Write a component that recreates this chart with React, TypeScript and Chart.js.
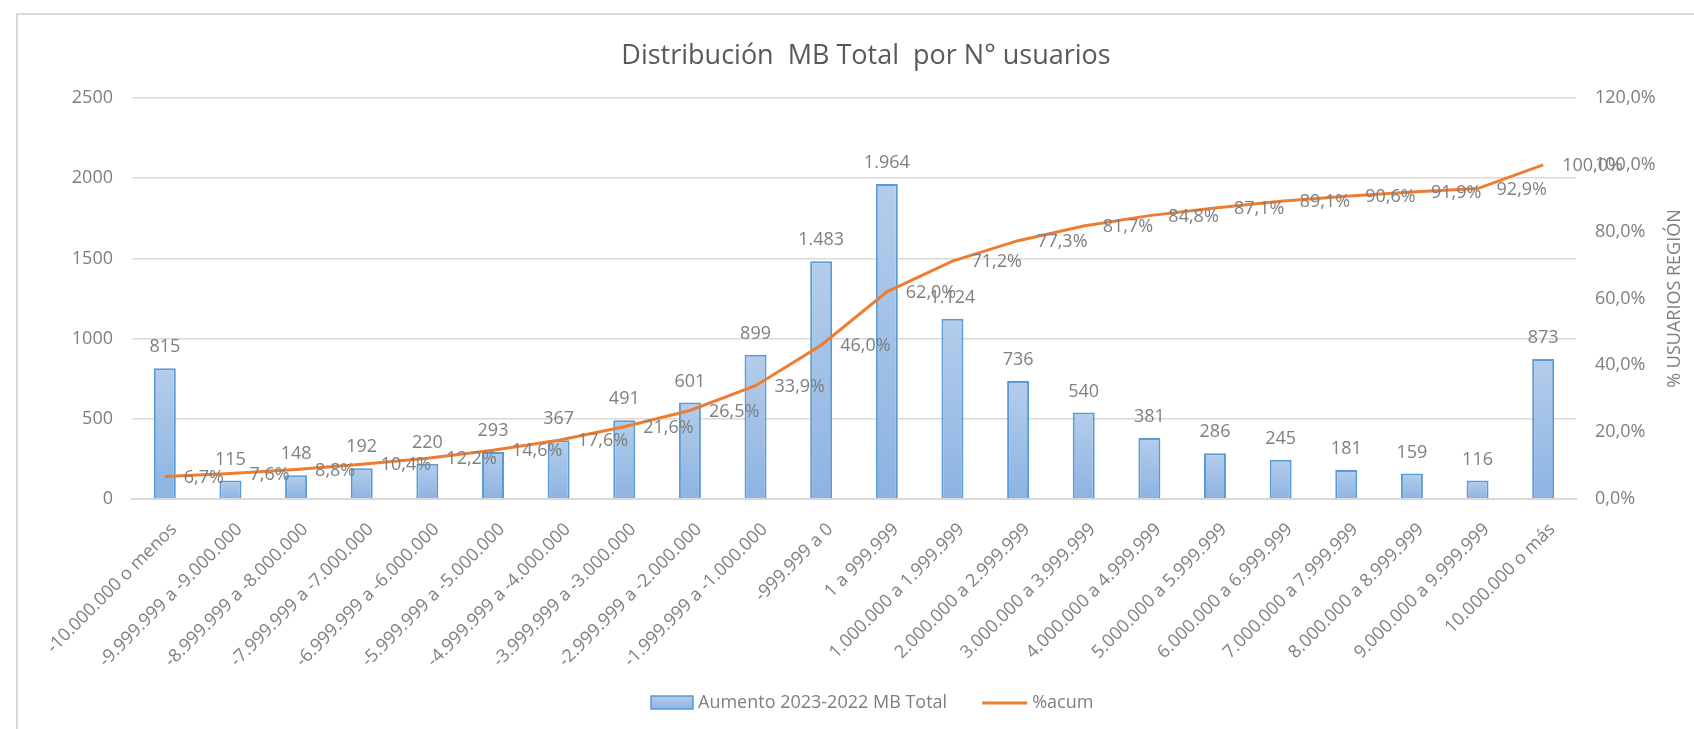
import React, { useEffect, useRef } from 'react';
import { Chart, registerables } from 'chart.js';

Chart.register(...registerables);

const categories = [
  '-10.000.000 o menos',
  '-9.999.999 a -9.000.000',
  '-8.999.999 a -8.000.000',
  '-7.999.999 a -7.000.000',
  '-6.999.999 a -6.000.000',
  '-5.999.999 a -5.000.000',
  '-4.999.999 a -4.000.000',
  '-3.999.999 a -3.000.000',
  '-2.999.999 a -2.000.000',
  '-1.999.999 a -1.000.000',
  '-999.999 a 0',
  '1 a 999.999',
  '1.000.000 a 1.999.999',
  '2.000.000 a 2.999.999',
  '3.000.000 a 3.999.999',
  '4.000.000 a 4.999.999',
  '5.000.000 a 5.999.999',
  '6.000.000 a 6.999.999',
  '7.000.000 a 7.999.999',
  '8.000.000 a 8.999.999',
  '9.000.000 a 9.999.999',
  '10.000.000 o más',
];

const usuarios = [815, 115, 148, 192, 220, 293, 367, 491, 601, 899, 1483, 1964, 1124, 736, 540, 381, 286, 245, 181, 159, 116, 873];

const acumulado = [6.7, 7.6, 8.8, 10.4, 12.2, 14.6, 17.6, 21.6, 26.5, 33.9, 46.0, 62.0, 71.2, 77.3, 81.7, 84.8, 87.1, 89.1, 90.6, 91.9, 92.9, 100.0];

const leftAxis = { min: 0, max: 2500, step: 500 };
const rightAxis = { min: 0, max: 120, step: 20 };

const titleText = 'Distribución  MB Total  por N° usuarios';
const barLabel = 'Aumento 2023-2022 MB Total';
const lineLabel = '%acum';
const rightTitle = '% USUARIOS REGIÓN';

const FONT = "'Open Sans', 'Noto Sans', sans-serif";
const GRAY = '#7f7f7f';
const BAR_BORDER = '#5b9bd5';
const BAR_TOP = '#b4cdeb';
const BAR_BOTTOM = '#8db3e2';
const ORANGE = '#ed7d31';

const fmtThousands = (n: number) => String(n).replace(/\B(?=(\d{3})+(?!\d))/g, '.');
const fmtPct = (v: number) => Number(v).toFixed(1).replace('.', ',') + '%';

const overlayPlugin = {
  id: 'overlay',
  afterDatasetsDraw(chart: any) {
    const ctx = chart.ctx;
    ctx.save();
    ctx.fillStyle = GRAY;
    ctx.font = `18px ${FONT}`;
    ctx.textBaseline = 'middle';
    const barMeta = chart.getDatasetMeta(0);
    ctx.textAlign = 'center';
    barMeta.data.forEach((el: any, i: number) => {
      ctx.fillText(fmtThousands(usuarios[i]), el.x, el.y - 21);
    });
    const lineMeta = chart.getDatasetMeta(1);
    ctx.textAlign = 'left';
    lineMeta.data.forEach((el: any, i: number) => {
      ctx.fillText(fmtPct(acumulado[i]), el.x + 19, el.y + 1);
    });
    ctx.restore();
  },
  afterDraw(chart: any) {
    const ctx = chart.ctx;
    const area = chart.chartArea;
    ctx.save();
    // title
    ctx.fillStyle = '#595959';
    ctx.font = `27px ${FONT}`;
    ctx.textAlign = 'center';
    ctx.textBaseline = 'middle';
    ctx.fillText(titleText, 848, 41);

    // right axis title
    ctx.save();
    ctx.translate(1657, (area.top + area.bottom) / 2);
    ctx.rotate(-Math.PI / 2);
    ctx.fillStyle = GRAY;
    ctx.font = `18px ${FONT}`;
    ctx.textAlign = 'center';
    ctx.textBaseline = 'middle';
    ctx.fillText(rightTitle, 0, 0);
    ctx.restore();

    // legend
    const ly = 688;
    const bx = 633;
    const g = ctx.createLinearGradient(0, ly - 7, 0, ly + 6);
    g.addColorStop(0, BAR_TOP);
    g.addColorStop(1, BAR_BOTTOM);
    ctx.fillStyle = g;
    ctx.fillRect(bx, ly - 7, 42, 13);
    ctx.strokeStyle = BAR_BORDER;
    ctx.lineWidth = 1.5;
    ctx.strokeRect(bx, ly - 7, 42, 13);
    ctx.fillStyle = GRAY;
    ctx.font = `18px ${FONT}`;
    ctx.textAlign = 'left';
    ctx.textBaseline = 'middle';
    const tx = bx + 47;
    ctx.fillText(barLabel, tx, ly);
    const w = ctx.measureText(barLabel).width;
    const lx = tx + w + 35;
    ctx.strokeStyle = ORANGE;
    ctx.lineWidth = 3;
    ctx.beginPath();
    ctx.moveTo(lx, ly);
    ctx.lineTo(lx + 45, ly);
    ctx.stroke();
    ctx.fillText(lineLabel, lx + 50, ly);
    ctx.restore();
  },
};

export default function App() {
  const ref = useRef<HTMLCanvasElement>(null);

  useEffect(() => {
    if (!ref.current) return;
    const chart = new Chart(ref.current, {
      type: 'bar',
      data: {
        labels: categories,
        datasets: [
          {
            type: 'bar',
            label: barLabel,
            data: usuarios,
            yAxisID: 'y',
            order: 1,
            backgroundColor: (c: any) => {
              const ch = c.chart;
              const { chartArea, scales } = ch;
              if (!chartArea || c.type !== 'data' || !scales.y) return '#a3c0e6';
              const top = scales.y.getPixelForValue(c.raw);
              const base = scales.y.getPixelForValue(0);
              if (!isFinite(top) || !isFinite(base) || top === base) return '#a3c0e6';
              const gr = ch.ctx.createLinearGradient(0, top, 0, base);
              gr.addColorStop(0, BAR_TOP);
              gr.addColorStop(1, BAR_BOTTOM);
              return gr;
            },
            borderColor: BAR_BORDER,
            borderWidth: 2,
            barPercentage: 0.335,
            categoryPercentage: 1,
          },
          {
            type: 'line',
            label: lineLabel,
            data: acumulado,
            yAxisID: 'y1',
            order: 0,
            borderColor: ORANGE,
            backgroundColor: ORANGE,
            borderWidth: 3,
            pointRadius: 0,
            tension: 0,
            fill: false,
          },
        ],
      } as any,
      options: {
        animation: false,
        responsive: false,
        events: [],
        layout: { padding: { left: 0, top: 83, right: 0, bottom: 0 } },
        plugins: {
          legend: { display: false },
          title: { display: false },
          tooltip: { enabled: false },
        },
        scales: {
          x: {
            grid: { display: false, drawTicks: false },
            border: { display: true, color: '#d9d9d9', width: 2 },
            ticks: {
              autoSkip: false,
              minRotation: 45,
              maxRotation: 45,
              padding: 20,
              labelOffset: 9,
              color: GRAY,
              font: { family: FONT, size: 18 },
            },
            afterFit: (s: any) => {
              s.height = 230;
              s.paddingLeft = 0;
              s.paddingRight = 0;
            },
          },
          y: {
            position: 'left',
            min: leftAxis.min,
            max: leftAxis.max,
            ticks: {
              stepSize: leftAxis.step,
              padding: 19,
              color: GRAY,
              font: { family: FONT, size: 18 },
              callback: (v: any) => String(v),
            },
            grid: { color: '#d9d9d9', lineWidth: 1.5, drawTicks: false },
            border: { display: false },
            afterFit: (s: any) => {
              s.width = 114;
            },
          },
          y1: {
            position: 'right',
            min: rightAxis.min,
            max: rightAxis.max,
            ticks: {
              stepSize: rightAxis.step,
              padding: 19,
              color: GRAY,
              font: { family: FONT, size: 18 },
              callback: (v: any) => fmtPct(Number(v)),
            },
            grid: { display: false, drawTicks: false },
            border: { display: false },
            afterFit: (s: any) => {
              s.width = 142;
            },
          },
        },
      } as any,
      plugins: [overlayPlugin],
    });
    return () => chart.destroy();
  }, []);

  return (
    <div
      style={{
        position: 'fixed',
        left: 0,
        top: 0,
        width: 1694,
        height: 729,
        overflow: 'hidden',
        background: '#ffffff',
      }}
    >
      <div
        style={{
          position: 'absolute',
          left: 16,
          top: 13,
          width: 1760,
          height: 800,
          borderLeft: '2px solid #d9d9d9',
          borderTop: '2px solid #d9d9d9',
        }}
      >
        <canvas ref={ref} width={1700} height={714} style={{ display: 'block', width: 1700, height: 714 }} />
      </div>
    </div>
  );
}
